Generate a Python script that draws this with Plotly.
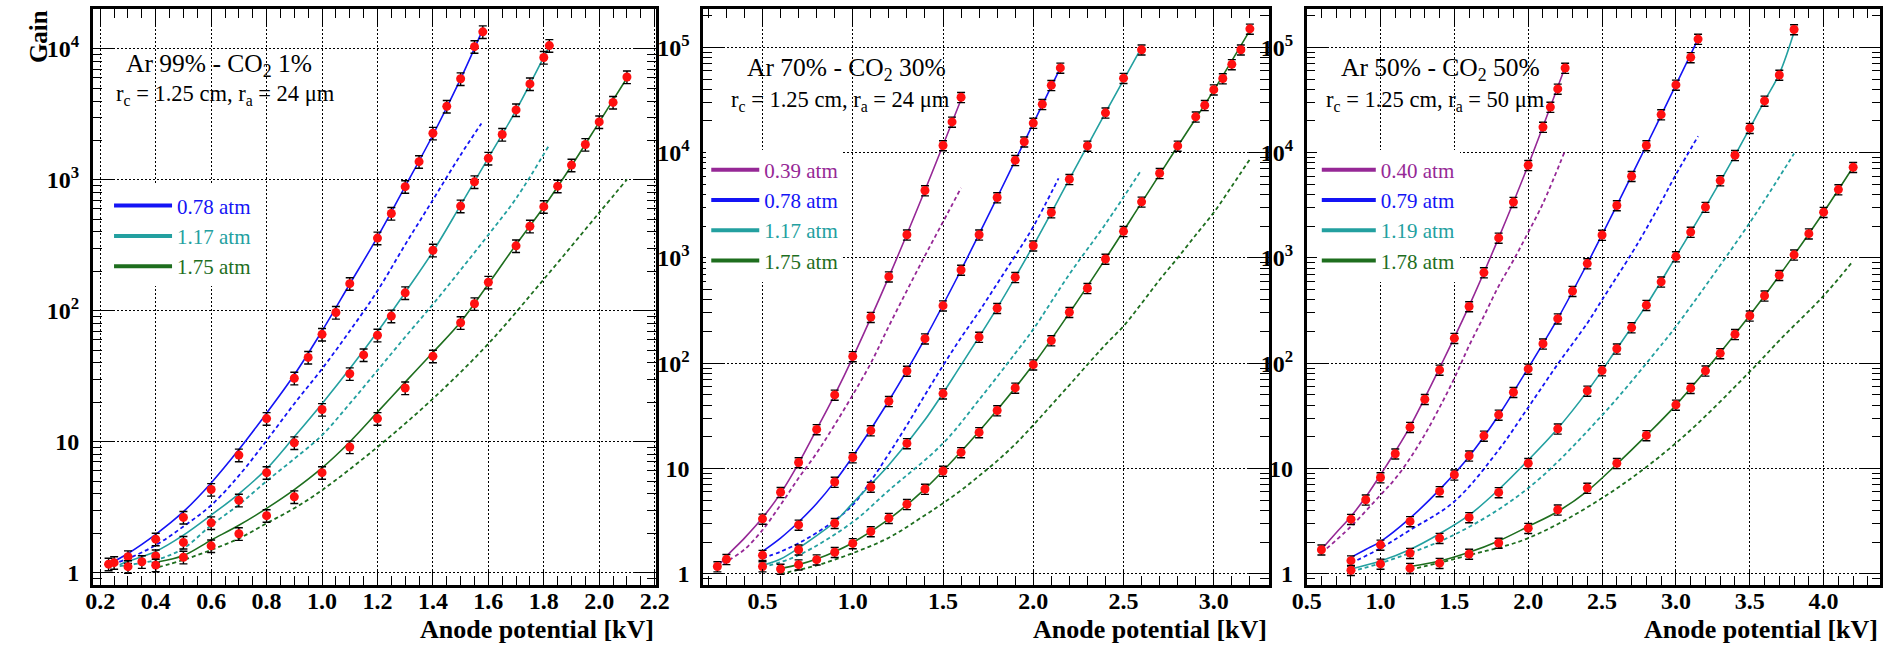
import numpy as np
import plotly.graph_objects as go

W, H = 1897, 649

# ---------------- Ar 99% - CO2 1% ----------------
P1_V_078 = [0.23, 0.25, 0.30, 0.40, 0.50, 0.60, 0.70, 0.80, 0.90, 0.95, 1.00, 1.05, 1.10, 1.20, 1.25, 1.30, 1.35, 1.40, 1.45, 1.50, 1.55, 1.58]
P1_G_078 = [1.16, 1.19, 1.32, 1.80, 2.64, 4.31, 7.9, 15.0, 30.5, 44, 66, 97, 161, 359, 553, 887, 1377, 2268, 3640, 5910, 10400, 13500]
P1_V_117 = [0.30, 0.35, 0.40, 0.50, 0.60, 0.70, 0.80, 0.90, 1.00, 1.10, 1.15, 1.20, 1.25, 1.30, 1.40, 1.50, 1.55, 1.60, 1.65, 1.70, 1.75, 1.80, 1.82]
P1_G_117 = [1.11, 1.21, 1.34, 1.70, 2.40, 3.57, 5.8, 9.8, 17.6, 33, 46, 65, 91, 137, 290, 630, 965, 1460, 2220, 3420, 5400, 8600, 10600]
P1_V_175 = [0.40, 0.50, 0.60, 0.70, 0.80, 0.90, 1.00, 1.10, 1.20, 1.30, 1.40, 1.50, 1.55, 1.60, 1.70, 1.75, 1.80, 1.85, 1.90, 1.95, 2.00, 2.05, 2.10]
P1_G_175 = [1.14, 1.31, 1.60, 1.98, 2.72, 3.79, 5.8, 9.1, 15.0, 25.7, 45, 81, 113, 165, 313, 442, 624, 895, 1295, 1860, 2770, 3900, 6100]
# fitted curves (solid)
P1_FV_078 = [0.22, 0.30, 0.40, 0.50, 0.60, 0.70, 0.80, 0.90, 1.00, 1.10, 1.20, 1.30, 1.40, 1.50, 1.575]
P1_FG_078 = [1.13, 1.40, 1.96, 2.92, 4.84, 8.7, 16.5, 32.4, 70, 160, 365, 890, 2200, 5900, 13300]
P1_FV_117 = [0.27, 0.30, 0.40, 0.50, 0.60, 0.70, 0.80, 0.90, 1.00, 1.10, 1.20, 1.30, 1.40, 1.50, 1.60, 1.70, 1.82]
P1_FG_117 = [1.15, 1.22, 1.45, 1.93, 2.75, 4.0, 6.2, 10.9, 19.5, 36, 69, 138, 283, 640, 1470, 3400, 10500]
P1_FV_175 = [0.41, 0.50, 0.60, 0.70, 0.80, 0.90, 1.00, 1.10, 1.20, 1.30, 1.40, 1.50, 1.60, 1.70, 1.80, 1.90, 2.00, 2.10]
P1_FG_175 = [1.21, 1.35, 1.77, 2.3, 3.09, 4.3, 6.3, 9.95, 16.8, 28.5, 48, 82, 160, 320, 620, 1280, 2760, 6000]
# calculated curves (dashed)
P1_TV_078 = [0.22, 0.30, 0.40, 0.50, 0.60, 0.70, 0.80, 0.90, 1.00, 1.10, 1.20, 1.30, 1.40, 1.50, 1.575]
P1_TG_078 = [1.12, 1.28, 1.62, 2.25, 3.27, 5.5, 10.2, 19.5, 36, 70, 142, 320, 703, 1550, 2690]
P1_TV_117 = [0.27, 0.40, 0.50, 0.60, 0.70, 0.80, 0.90, 1.00, 1.10, 1.20, 1.30, 1.40, 1.50, 1.60, 1.70, 1.82]
P1_TG_117 = [1.12, 1.25, 1.53, 2.3, 3.3, 5.0, 7.4, 11.2, 19.5, 35, 63, 112, 205, 380, 720, 1850]
P1_TV_175 = [0.41, 0.50, 0.60, 0.70, 0.80, 0.90, 1.00, 1.20, 1.40, 1.60, 1.80, 2.00, 2.10]
P1_TG_175 = [1.10, 1.25, 1.49, 1.82, 2.38, 3.1, 4.26, 9.1, 21.3, 56, 174, 561, 1007]

# ---------------- Ar 70% - CO2 30% ----------------
P2_V_039 = [0.25, 0.30, 0.50, 0.60, 0.70, 0.80, 0.90, 1.00, 1.10, 1.20, 1.30, 1.40, 1.50, 1.55, 1.60]
P2_G_039 = [1.17, 1.37, 3.32, 5.94, 11.4, 23.5, 50, 116, 274, 664, 1660, 4370, 11700, 19600, 33600]
P2_V_078 = [0.50, 0.70, 0.90, 1.00, 1.10, 1.20, 1.30, 1.40, 1.50, 1.60, 1.70, 1.80, 1.90, 1.95, 2.00, 2.05, 2.10, 2.15]
P2_G_078 = [1.50, 2.91, 7.43, 12.7, 22.9, 43.5, 84.4, 171, 352, 768, 1660, 3750, 8460, 12700, 19100, 28800, 43600, 63800]
P2_V_117 = [0.50, 0.70, 0.90, 1.10, 1.30, 1.50, 1.70, 1.80, 1.90, 2.00, 2.10, 2.20, 2.30, 2.40, 2.50, 2.60]
P2_G_117 = [1.17, 1.69, 3.02, 6.67, 17.3, 51.4, 177, 333, 655, 1306, 2700, 5590, 11600, 23900, 51000, 95000]
P2_V_175 = [0.60, 0.70, 0.80, 0.90, 1.00, 1.10, 1.20, 1.30, 1.40, 1.50, 1.60, 1.70, 1.80, 1.90, 2.00, 2.10, 2.20, 2.30, 2.40, 2.50, 2.60, 2.70, 2.80, 2.90, 2.95, 3.00, 3.05, 3.10, 3.15, 3.20]
P2_G_175 = [1.11, 1.22, 1.36, 1.60, 1.94, 2.52, 3.37, 4.57, 6.38, 9.46, 14.2, 22.0, 35.5, 58.2, 96.8, 164, 305, 515, 977, 1790, 3410, 6370, 11600, 21900, 28200, 39700, 50600, 69000, 95000, 150000]
P2_FV_039 = [0.25, 0.30, 0.40, 0.50, 0.60, 0.70, 0.80, 0.90, 1.00, 1.20, 1.40, 1.60]
P2_FG_039 = [1.15, 1.46, 2.18, 3.4, 5.8, 11.2, 23.5, 50, 113, 660, 4400, 32000]
P2_FV_078 = [0.50, 0.60, 0.70, 0.80, 0.90, 1.00, 1.20, 1.40, 1.60, 1.80, 2.00, 2.15]
P2_FG_078 = [1.63, 2.18, 3.1, 4.65, 7.5, 13, 44, 171, 768, 3750, 19000, 64000]
P2_FV_117 = [0.50, 0.60, 0.70, 0.80, 0.90, 1.00, 1.20, 1.40, 1.60, 1.80, 2.00, 2.20, 2.40, 2.60]
P2_FG_117 = [1.2, 1.38, 1.75, 2.3, 3.1, 4.69, 10.8, 29, 96, 335, 1310, 5600, 24000, 100000]
P2_FV_175 = [0.60, 0.70, 0.80, 0.90, 1.00, 1.20, 1.40, 1.60, 1.80, 2.00, 2.20, 2.40, 2.60, 2.80, 3.00, 3.20]
P2_FG_175 = [1.12, 1.22, 1.38, 1.62, 1.97, 3.3, 6.4, 14.5, 36, 97, 300, 980, 3350, 11500, 39000, 145000]
P2_TV_039 = [0.25, 0.30, 0.40, 0.50, 0.60, 0.70, 0.80, 0.90, 1.00, 1.10, 1.20, 1.30, 1.40, 1.50, 1.60]
P2_TG_039 = [1.15, 1.3, 1.7, 2.6, 4.5, 8.1, 14, 26, 50, 100, 225, 490, 1050, 2200, 4630]
P2_TV_078 = [0.50, 0.60, 0.70, 0.80, 0.90, 1.00, 1.10, 1.20, 1.30, 1.40, 1.50, 1.60, 1.70, 1.80, 1.90, 2.00, 2.14]
P2_TG_078 = [1.4, 1.62, 1.95, 2.45, 3.2, 4.5, 7.6, 13.8, 25.8, 50, 95, 175, 310, 570, 1050, 1980, 5700]
P2_TV_117 = [0.50, 0.70, 1.00, 1.20, 1.50, 1.70, 1.90, 2.00, 2.20, 2.40, 2.60]
P2_TG_117 = [1.15, 1.5, 3.1, 6.2, 17.3, 45, 124, 210, 700, 2100, 6900]
P2_TV_175 = [0.60, 0.80, 1.00, 1.20, 1.40, 1.50, 1.60, 1.70, 1.80, 1.90, 2.00, 2.10, 2.20, 2.30, 2.40, 2.50, 2.60, 2.70, 2.80, 2.90, 3.00, 3.10, 3.20]
P2_TG_175 = [1.0, 1.2, 1.57, 2.2, 3.6, 4.67, 6.2, 8.5, 11.8, 17, 25.8, 40, 62, 97, 150, 225, 370, 620, 1000, 1650, 2700, 4800, 8650]

# ---------------- Ar 50% - CO2 50% ----------------
P3_V_040 = [0.6, 0.8, 0.9, 1.0, 1.1, 1.2, 1.3, 1.4, 1.5, 1.6, 1.7, 1.8, 1.9, 2.0, 2.1, 2.15, 2.2, 2.25]
P3_G_040 = [1.69, 3.30, 5.04, 8.2, 13.8, 24.7, 45.5, 86.4, 173, 346, 726, 1550, 3390, 7590, 17500, 27100, 40300, 63700]
P3_V_079 = [0.8, 1.0, 1.2, 1.4, 1.5, 1.6, 1.7, 1.8, 1.9, 2.0, 2.1, 2.2, 2.3, 2.4, 2.5, 2.6, 2.7, 2.8, 2.9, 3.0, 3.1, 3.15]
P3_G_079 = [1.33, 1.88, 3.14, 6.05, 8.71, 13.2, 20.4, 32.3, 53, 88.3, 153, 265, 484, 884, 1650, 3150, 5970, 11700, 23000, 44000, 80400, 120000]
P3_V_119 = [0.8, 1.0, 1.2, 1.4, 1.6, 1.8, 2.0, 2.2, 2.4, 2.5, 2.6, 2.7, 2.8, 2.9, 3.0, 3.1, 3.2, 3.3, 3.4, 3.5, 3.6, 3.7, 3.8]
P3_G_119 = [1.08, 1.24, 1.57, 2.18, 3.43, 5.92, 11.2, 23.8, 54.6, 85.1, 137, 218, 356, 593, 1030, 1760, 3040, 5430, 9440, 17100, 31000, 54700, 148000]
P3_V_178 = [1.2, 1.4, 1.6, 1.8, 2.0, 2.2, 2.4, 2.6, 2.8, 3.0, 3.1, 3.2, 3.3, 3.4, 3.5, 3.6, 3.7, 3.8, 3.9, 4.0, 4.1, 4.2]
P3_G_178 = [1.13, 1.26, 1.54, 1.96, 2.71, 4.05, 6.51, 11.2, 20.6, 40.2, 57.9, 84.6, 124, 188, 282, 437, 685, 1070, 1700, 2720, 4460, 7270]
P3_FV_040 = [0.6, 0.7, 0.8, 0.9, 1.0, 1.1, 1.2, 1.4, 1.6, 1.8, 2.0, 2.25]
P3_FG_040 = [1.7, 2.45, 3.5, 5.35, 8.7, 14.5, 25, 90, 350, 1550, 7590, 65000]
P3_FV_079 = [0.8, 0.9, 1.0, 1.2, 1.4, 1.6, 1.8, 2.0, 2.2, 2.4, 2.6, 2.8, 3.0, 3.15]
P3_FG_079 = [1.43, 1.7, 2.02, 3.37, 6.3, 13, 32, 90, 265, 884, 3150, 11700, 44000, 120000]
P3_FV_119 = [0.8, 1.0, 1.2, 1.4, 1.6, 1.8, 2.0, 2.2, 2.4, 2.6, 2.8, 3.0, 3.2, 3.4, 3.6, 3.7, 3.8]
P3_FG_119 = [1.11, 1.32, 1.7, 2.4, 3.6, 6.3, 12, 24, 54, 137, 356, 1030, 3040, 9440, 31000, 56000, 140000]
P3_FV_178 = [1.2, 1.4, 1.6, 1.8, 2.0, 2.2, 2.4, 2.6, 2.8, 3.0, 3.2, 3.4, 3.6, 3.8, 4.0, 4.2]
P3_FG_178 = [1.17, 1.32, 1.6, 2.05, 2.81, 3.9, 6.1, 11, 20.6, 40, 85, 188, 437, 1070, 2720, 7300]
P3_TV_040 = [0.6, 0.8, 1.0, 1.1, 1.2, 1.3, 1.4, 1.5, 1.6, 1.7, 1.8, 1.9, 2.0, 2.1, 2.25]
P3_TG_040 = [1.57, 2.81, 5.6, 8.0, 12.5, 21, 38, 72, 147, 280, 540, 950, 1750, 3300, 10500]
P3_TV_079 = [0.8, 1.0, 1.2, 1.5, 1.8, 2.0, 2.2, 2.4, 2.5, 2.7, 2.8, 2.9, 3.0, 3.15]
P3_TG_079 = [1.26, 1.75, 2.6, 4.86, 15, 38, 98, 240, 400, 1100, 1900, 3400, 6200, 14300]
P3_TV_119 = [0.8, 1.0, 1.5, 2.0, 2.5, 2.88, 3.0, 3.5, 3.76, 3.8]
P3_TG_119 = [1.05, 1.26, 2.35, 6.5, 32, 137, 223, 2160, 7980, 9800]
P3_TV_178 = [1.2, 1.6, 2.0, 2.5, 3.0, 3.5, 3.71, 4.0, 4.2]
P3_TG_178 = [1.09, 1.5, 2.18, 5.23, 17.4, 83, 170, 437, 938]

# ---------------- axes ----------------
X1_TICKS = [0.2, 0.4, 0.6, 0.8, 1.0, 1.2, 1.4, 1.6, 1.8, 2.0, 2.2]
X2_TICKS = [0.5, 1.0, 1.5, 2.0, 2.5, 3.0]
X3_TICKS = [0.5, 1.0, 1.5, 2.0, 2.5, 3.0, 3.5, 4.0]
Y1_TICKS = [1, 10, 100, 1000, 10000]
Y1_LABELS = ["1", "10", "10<sup>2</sup>", "10<sup>3</sup>", "10<sup>4</sup>"]
Y2_TICKS = [1, 10, 100, 1000, 10000, 100000]
Y2_LABELS = ["1", "10", "10<sup>2</sup>", "10<sup>3</sup>", "10<sup>4</sup>", "10<sup>5</sup>"]

PURPLE = "#962896"
BLUE = "#1414f5"
CYAN = "#23a0a0"
GREEN = "#1e6e1e"
RED = "#ff1010"

SERIF = "Liberation Serif"


def fx(px):
    return px / W


def fy(py):
    return 1 - py / H


PANELS = [
    dict(xa="x", ya="y", legend="legend",
         dom_x=(79, 651), xr=[0.173, 2.205], yr=[-0.094, 4.305],
         xticks=X1_TICKS, xminor=np.round(np.arange(0.15, 2.21, 0.05), 3),
         yticks=Y1_TICKS, ylabels=Y1_LABELS,
         title1="Ar 99% - CO<sub>2</sub> 1%", title2="r<sub>c</sub> = 1.25 cm, r<sub>a</sub> = 24 μm",
         t1=(111, 65), t2=(101, 95), box=(79, 326, 9, 116), leg=(95.5, 186, 58),
         series=[("0.78 atm", BLUE, P1_V_078, P1_G_078, P1_FV_078, P1_FG_078, P1_TV_078, P1_TG_078),
                 ("1.17 atm", CYAN, P1_V_117, P1_G_117, P1_FV_117, P1_FG_117, P1_TV_117, P1_TG_117),
                 ("1.75 atm", GREEN, P1_V_175, P1_G_175, P1_FV_175, P1_FG_175, P1_TV_175, P1_TG_175)]),
    dict(xa="x2", ya="y2", legend="legend2",
         dom_x=(698.8, 1273.3), xr=[0.171, 3.305], yr=[-0.106, 5.365],
         xticks=X2_TICKS, xminor=np.round(np.arange(0.2, 3.31, 0.1), 3),
         yticks=Y2_TICKS, ylabels=Y2_LABELS,
         title1="Ar 70% - CO<sub>2</sub> 30%", title2="r<sub>c</sub> = 1.25 cm, r<sub>a</sub> = 24 μm",
         t1=(741, 69), t2=(725, 101), box=(699, 950, 9, 122), leg=(702, 150, 48),
         series=[("0.39 atm", PURPLE, P2_V_039, P2_G_039, P2_FV_039, P2_FG_039, P2_TV_039, P2_TG_039),
                 ("0.78 atm", BLUE, P2_V_078, P2_G_078, P2_FV_078, P2_FG_078, P2_TV_078, P2_TG_078),
                 ("1.17 atm", CYAN, P2_V_117, P2_G_117, P2_FV_117, P2_FG_117, P2_TV_117, P2_TG_117),
                 ("1.75 atm", GREEN, P2_V_175, P2_G_175, P2_FV_175, P2_FG_175, P2_TV_175, P2_TG_175)]),
    dict(xa="x3", ya="y3", legend="legend3",
         dom_x=(1311.7, 1894.3), xr=[0.5, 4.384], yr=[-0.106, 5.365],
         xticks=X3_TICKS, xminor=np.round(np.arange(0.5, 4.39, 0.1), 3),
         yticks=Y2_TICKS, ylabels=Y2_LABELS,
         title1="Ar 50% - CO<sub>2</sub> 50%", title2="r<sub>c</sub> = 1.25 cm, r<sub>a</sub> = 50 μm",
         t1=(1345, 69), t2=(1329, 101), box=(1312, 1562, 9, 122), leg=(1322, 150, 54),
         series=[("0.40 atm", PURPLE, P3_V_040, P3_G_040, P3_FV_040, P3_FG_040, P3_TV_040, P3_TG_040),
                 ("0.79 atm", BLUE, P3_V_079, P3_G_079, P3_FV_079, P3_FG_079, P3_TV_079, P3_TG_079),
                 ("1.19 atm", CYAN, P3_V_119, P3_G_119, P3_FV_119, P3_FG_119, P3_TV_119, P3_TG_119),
                 ("1.78 atm", GREEN, P3_V_178, P3_G_178, P3_FV_178, P3_FG_178, P3_TV_178, P3_TG_178)]),
]

Y_MINOR = [k * 10.0 ** d for d in range(-1, 6) for k in range(2, 10)]
TICKFONT = dict(family=SERIF, size=24, color="black", weight="bold")
Y_DOMAIN = [fy(586.7), fy(9)]

fig = go.Figure()
layout = dict(width=W, height=H, margin=dict(l=0, r=0, t=0, b=0),
              paper_bgcolor="white", plot_bgcolor="white",
              font=dict(family=SERIF, color="black"), annotations=[], shapes=[])

for i, p in enumerate(PANELS):
    xa, ya = p["xa"], p["ya"]
    # calculated (dashed) and fitted (solid) curves
    for name, col, v, g, fv, fg, tv, tg in p["series"]:
        fig.add_trace(go.Scatter(x=tv, y=tg, mode="lines", xaxis=xa, yaxis=ya, showlegend=False,
                                 line=dict(color=col, width=1.8, dash="4px,3px", shape="spline", smoothing=1.0),
                                 hoverinfo="skip"))
        fig.add_trace(go.Scatter(x=fv, y=fg, mode="lines", xaxis=xa, yaxis=ya, showlegend=False,
                                 line=dict(color=col, width=1.6, shape="spline", smoothing=1.0),
                                 hoverinfo="skip"))
    # measured gain with error bars
    for name, col, v, g, fv, fg, tv, tg in p["series"]:
        fig.add_trace(go.Scatter(x=v, y=g, mode="markers", xaxis=xa, yaxis=ya, showlegend=False,
                                 marker=dict(color=RED, size=9, line=dict(width=0)),
                                 error_y=dict(type="percent", value=11, color="black", thickness=1.4, width=4)))
    # legend entries
    for name, col, v, g, fv, fg, tv, tg in p["series"]:
        fig.add_trace(go.Scatter(x=[None], y=[None], mode="lines", xaxis=xa, yaxis=ya,
                                 legend=p["legend"], showlegend=True,
                                 name=f'<span style="color:{col}">{name}</span>',
                                 line=dict(color=col, width=4)))

    sfx = "" if i == 0 else str(i + 1)
    layout["xaxis" + sfx] = dict(
        domain=[fx(p["dom_x"][0]), fx(p["dom_x"][1])], range=p["xr"], anchor=ya,
        tickmode="array", tickvals=p["xticks"], ticktext=[f"{t:.1f}" for t in p["xticks"]],
        ticks="inside", ticklen=16, tickwidth=1, tickcolor="black", mirror="allticks",
        showline=True, linewidth=2.5, linecolor="black", zeroline=False,
        showgrid=True, gridcolor="black", gridwidth=1, griddash="2px,2px",
        minor=dict(tickmode="array", tickvals=list(p["xminor"]), ticks="inside", ticklen=9,
                   tickwidth=1, tickcolor="black", showgrid=False),
        tickfont=TICKFONT, ticklabelstandoff=-7, fixedrange=True)
    layout["yaxis" + sfx] = dict(
        domain=Y_DOMAIN, type="log", range=p["yr"], anchor=xa,
        tickmode="array", tickvals=p["yticks"], ticktext=p["ylabels"],
        ticks="inside", ticklen=21, tickwidth=1, tickcolor="black", mirror="allticks",
        showline=True, linewidth=2.5, linecolor="black", zeroline=False,
        showgrid=True, gridcolor="black", gridwidth=1, griddash="2px,2px",
        minor=dict(tickmode="array", tickvals=Y_MINOR, ticks="inside", ticklen=9,
                   tickwidth=1, tickcolor="black", showgrid=False),
        tickfont=TICKFONT, ticklabelstandoff=6, fixedrange=True)

    lx, ly, lw = p["leg"]
    layout[p["legend"]] = dict(x=fx(lx), y=fy(ly), xanchor="left", yanchor="top",
                               bgcolor="white", borderwidth=0, itemwidth=lw, tracegroupgap=0,
                               font=dict(family=SERIF, size=21, color="black"))

    # white pad behind the header text
    bx0, bx1, by0, by1 = p["box"]
    layout["shapes"].append(dict(type="rect", xref="paper", yref="paper", layer="between",
                                 x0=fx(bx0), x1=fx(bx1), y0=fy(by1), y1=fy(by0),
                                 fillcolor="white", line=dict(width=0)))
    layout["annotations"] += [
        dict(text=p["title1"], x=fx(p["t1"][0]), y=fy(p["t1"][1]), xref="paper", yref="paper",
             xanchor="left", yanchor="middle", showarrow=False, font=dict(family=SERIF, size=25.5)),
        dict(text=p["title2"], x=fx(p["t2"][0]), y=fy(p["t2"][1]), xref="paper", yref="paper",
             xanchor="left", yanchor="middle", showarrow=False, font=dict(family=SERIF, size=22.5)),
        dict(text="Anode potential [kV]", x=fx(p["dom_x"][1]), y=fy(631), xref="paper", yref="paper",
             xanchor="right", yanchor="middle", showarrow=False,
             font=dict(family=SERIF, size=26, weight="bold")),
    ]

layout["annotations"].append(
    dict(text="Gain", x=fx(24), y=fy(8), xref="paper", yref="paper", xanchor="center", yanchor="top",
         textangle=-90, showarrow=False, font=dict(family=SERIF, size=25, weight="bold")))

fig.update_layout(**layout)
fig.write_html("out.html")
